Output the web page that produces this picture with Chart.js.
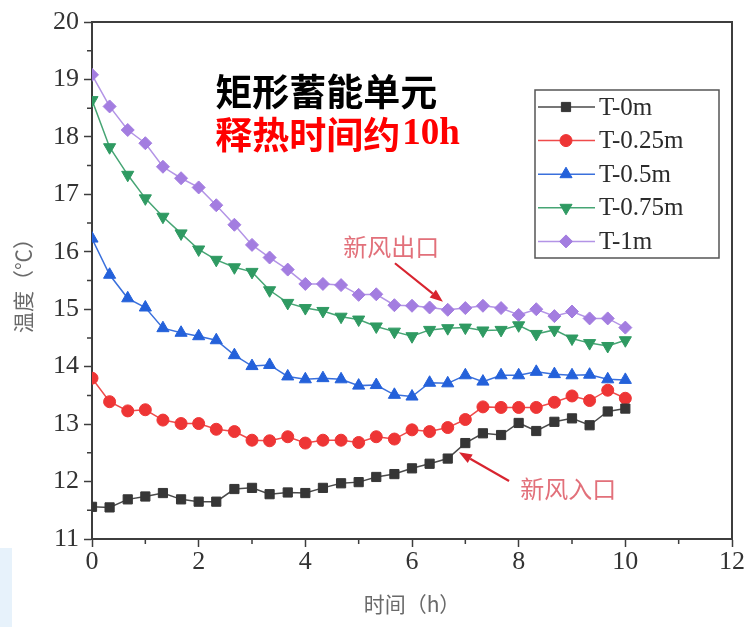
<!DOCTYPE html>
<html>
<head>
<meta charset="utf-8">
<script src="https://cdn.jsdelivr.net/npm/chart.js@4.4.1/dist/chart.umd.min.js"></script>
<style>
  html, body { margin: 0; padding: 0; background: #fff; }
  #wrap { position: relative; width: 746px; height: 627px; }
  canvas { display: block; }
  .edge { position: absolute; left: 0; top: 548px; width: 12px; height: 79px; background: #e7f2fb; }
</style>
</head>
<body>
<div id="wrap">
  <canvas id="c" width="746" height="627"></canvas>
  <div class="edge"></div>
</div>
<script>
// Sampling times (h), one reading every 20 minutes
const hours = [0, 0.33, 0.67, 1, 1.33, 1.67, 2, 2.33, 2.67, 3, 3.33, 3.67, 4, 4.33, 4.67,
               5, 5.33, 5.67, 6, 6.33, 6.67, 7, 7.33, 7.67, 8, 8.33, 8.67, 9, 9.33, 9.67, 10];

// Temperatures (°C) at each depth
const t0m   = [11.56, 11.55, 11.69, 11.74, 11.80, 11.69, 11.65, 11.65, 11.87, 11.89, 11.78, 11.81, 11.80, 11.89, 11.97,
               11.99, 12.08, 12.13, 12.23, 12.31, 12.40, 12.67, 12.84, 12.81, 13.02, 12.88, 13.04, 13.10, 12.98, 13.22, 13.27];
const t025m = [13.80, 13.39, 13.23, 13.25, 13.07, 13.01, 13.01, 12.91, 12.87, 12.72, 12.71, 12.78, 12.67, 12.72, 12.72,
               12.68, 12.78, 12.74, 12.90, 12.87, 12.94, 13.08, 13.30, 13.29, 13.29, 13.29, 13.38, 13.49, 13.41, 13.59, 13.45];
const t05m  = [16.23, 15.60, 15.19, 15.03, 14.67, 14.59, 14.53, 14.46, 14.20, 14.01, 14.03, 13.83, 13.78, 13.80, 13.78,
               13.67, 13.68, 13.51, 13.48, 13.72, 13.71, 13.85, 13.74, 13.85, 13.85, 13.91, 13.87, 13.85, 13.86, 13.78, 13.77];
const t075m = [18.64, 17.82, 17.34, 16.93, 16.61, 16.32, 16.04, 15.86, 15.73, 15.65, 15.33, 15.11, 15.02, 14.97, 14.87,
               14.82, 14.70, 14.61, 14.53, 14.64, 14.67, 14.68, 14.63, 14.64, 14.72, 14.57, 14.64, 14.49, 14.41, 14.36, 14.46];
const t1m   = [19.08, 18.53, 18.12, 17.89, 17.48, 17.28, 17.12, 16.81, 16.47, 16.12, 15.90, 15.69, 15.44, 15.44, 15.42,
               15.25, 15.26, 15.07, 15.06, 15.03, 14.99, 15.02, 15.06, 15.02, 14.90, 15.00, 14.88, 14.96, 14.84, 14.84, 14.68];

const seriesNames = ['T-0m', 'T-0.25m', 'T-0.5m', 'T-0.75m', 'T-1m'];

// Axis ticks
const xTicks = [0, 2, 4, 6, 8, 10, 12];
const xMinorTicks = [1, 3, 5, 7, 9, 11];
const yTicks = [11, 12, 13, 14, 15, 16, 17, 18, 19, 20];
const yMinorTicks = [11.5, 12.5, 13.5, 14.5, 15.5, 16.5, 17.5, 18.5, 19.5];

// Text labels
const titleLine1 = '矩形蓄能单元';
const titleLine2Cjk = '释热时间约';
const titleLine2Latin = '10h';
const xTitle = '时间（h）';
const yTitle = '温度（℃）';
const noteOutlet = '新风出口';
const noteInlet = '新风入口';

// Marker / line styles per series
const styles = [
  { point: '#363636', line: '#4a4a4a', shape: 'rect',     radius: 6.5, rotation: 0 },
  { point: '#ee3535', line: '#ef4a4a', shape: 'circle',   radius: 6,   rotation: 0 },
  { point: '#2461da', line: '#3a70dc', shape: 'triangle', radius: 7,   rotation: 0 },
  { point: '#2f9a62', line: '#46a574', shape: 'triangle', radius: 7,   rotation: 180 },
  { point: '#a37de0', line: '#b394e6', shape: 'rectRot',  radius: 6.5, rotation: 0 }
];
const values = [t0m, t025m, t05m, t075m, t1m];

const AXIS_COLOR = '#3d3d3d';
const TICK_COLOR = '#333333';
const TITLE_COLOR = '#6a6a6a';
const NOTE_COLOR = '#e2707a';
const ARROW_COLOR = '#d8242f';

const datasets = values.map((vals, k) => ({
  label: seriesNames[k],
  data: hours.map((h, i) => ({ x: h, y: vals[i] })),
  borderColor: styles[k].line,
  backgroundColor: styles[k].point,
  pointBackgroundColor: styles[k].point,
  pointBorderColor: styles[k].point,
  pointBorderWidth: 1,
  pointStyle: styles[k].shape,
  pointRadius: styles[k].radius,
  pointRotation: styles[k].rotation,
  borderWidth: 1.5,
  tension: 0,
  fill: false
}));

// Frame on the top/right sides plus short minor ticks on both axes
const frameAndMinorTicks = {
  id: 'frameAndMinorTicks',
  afterDraw(chart) {
    const { ctx, chartArea: a, scales: { x, y } } = chart;
    ctx.save();
    ctx.strokeStyle = AXIS_COLOR;
    ctx.lineWidth = 2;
    ctx.beginPath();
    ctx.moveTo(a.left, a.top);
    ctx.lineTo(a.right, a.top);
    ctx.lineTo(a.right, a.bottom);
    ctx.stroke();
    ctx.lineWidth = 1.5;
    ctx.beginPath();
    xMinorTicks.forEach(v => {
      const px = x.getPixelForValue(v);
      ctx.moveTo(px, a.bottom);
      ctx.lineTo(px, a.bottom + 5);
    });
    yMinorTicks.forEach(v => {
      const py = y.getPixelForValue(v);
      ctx.moveTo(a.left, py);
      ctx.lineTo(a.left - 5, py);
    });
    ctx.stroke();
    ctx.restore();
  }
};

// Boxed legend with a line-through-marker sample for every series
const boxedLegend = {
  id: 'boxedLegend',
  afterDatasetsDraw(chart) {
    const ctx = chart.ctx;
    const bx = 535, by = 90, bw = 184, bh = 168;
    const rowGap = 33.6;
    ctx.save();
    ctx.fillStyle = '#fff';
    ctx.fillRect(bx, by, bw, bh);
    ctx.strokeStyle = '#555';
    ctx.lineWidth = 1.5;
    ctx.strokeRect(bx, by, bw, bh);
    chart.data.datasets.forEach((ds, i) => {
      const cy = by + 17 + i * rowGap;
      ctx.strokeStyle = ds.borderColor;
      ctx.lineWidth = 1.5;
      ctx.beginPath();
      ctx.moveTo(bx + 3, cy);
      ctx.lineTo(bx + 60, cy);
      ctx.stroke();
      ctx.fillStyle = ds.pointBackgroundColor;
      ctx.strokeStyle = ds.pointBorderColor;
      ctx.lineWidth = 1;
      Chart.helpers.drawPoint(ctx, {
        pointStyle: ds.pointStyle, radius: ds.pointRadius,
        rotation: ds.pointRotation, borderWidth: 1
      }, bx + 31, cy);
      ctx.fillStyle = '#2b2b2b';
      ctx.font = '25px "Liberation Serif"';
      ctx.textBaseline = 'middle';
      ctx.textAlign = 'left';
      ctx.fillText(ds.label, bx + 64, cy + 1);
    });
    ctx.restore();
  }
};

// Headline, callouts and arrows, anchored in data units
const notes = {
  id: 'notes',
  afterDatasetsDraw(chart) {
    const { ctx, scales: { x, y } } = chart;
    const X = v => x.getPixelForValue(v);
    const Y = v => y.getPixelForValue(v);
    ctx.save();

    // headline
    ctx.textBaseline = 'middle';
    ctx.textAlign = 'left';
    ctx.fillStyle = '#000';
    ctx.font = '700 37px "Noto Sans CJK SC"';
    const hx = X(2.31);
    ctx.fillText(titleLine1, hx, Y(18.78));
    ctx.fillStyle = '#ff0000';
    ctx.fillText(titleLine2Cjk, hx, Y(18.04));
    const w = ctx.measureText(titleLine2Cjk).width;
    ctx.font = '700 37px "Liberation Serif"';
    ctx.fillText(titleLine2Latin, hx + w + 2, Y(18.04));

    // callout texts
    ctx.fillStyle = NOTE_COLOR;
    ctx.font = '24px "Noto Sans CJK SC"';
    ctx.fillText(noteOutlet, X(4.71), Y(16.08));
    ctx.fillText(noteInlet, X(8.03), Y(11.87));

    // arrows
    const arrow = (x1, y1, x2, y2) => {
      const ax = X(x1), ay = Y(y1), tx = X(x2), ty = Y(y2);
      const ang = Math.atan2(ty - ay, tx - ax);
      const head = 13, half = 5;
      const bxp = tx - head * Math.cos(ang), byp = ty - head * Math.sin(ang);
      ctx.strokeStyle = ARROW_COLOR;
      ctx.fillStyle = ARROW_COLOR;
      ctx.lineWidth = 2.2;
      ctx.beginPath();
      ctx.moveTo(ax, ay);
      ctx.lineTo(bxp, byp);
      ctx.stroke();
      ctx.beginPath();
      ctx.moveTo(tx, ty);
      ctx.lineTo(bxp + half * Math.sin(ang), byp - half * Math.cos(ang));
      ctx.lineTo(bxp - half * Math.sin(ang), byp + half * Math.cos(ang));
      ctx.closePath();
      ctx.fill();
    };
    arrow(5.68, 15.80, 6.58, 15.13);
    arrow(7.82, 12.01, 6.88, 12.51);
    ctx.restore();
  }
};

const tickFont = { family: 'Liberation Serif', size: 26 };
const axisTitleFont = { family: 'Noto Sans CJK SC', size: 21 };

new Chart(document.getElementById('c'), {
  type: 'line',
  data: { datasets },
  options: {
    responsive: false,
    animation: false,
    devicePixelRatio: 1,
    layout: { padding: { left: 0, right: 14, top: 22, bottom: 0 } },
    plugins: { legend: { display: false }, tooltip: { enabled: false } },
    scales: {
      x: {
        type: 'linear', min: 0, max: 12,
        afterFit(s) { s.height = 88; },
        afterBuildTicks(s) { s.ticks = xTicks.map(v => ({ value: v })); },
        ticks: { font: tickFont, color: TICK_COLOR, padding: 0, maxRotation: 0, autoSkip: false },
        grid: { display: true, drawOnChartArea: false, drawTicks: true, tickLength: 8, tickWidth: 1.5, tickColor: AXIS_COLOR },
        border: { display: true, color: AXIS_COLOR, width: 2 },
        title: { display: true, text: xTitle, font: axisTitleFont, color: TITLE_COLOR, padding: { top: 0, bottom: 10 } }
      },
      y: {
        type: 'linear', min: 11, max: 20,
        afterFit(s) { s.width = 92; },
        afterBuildTicks(s) { s.ticks = yTicks.map(v => ({ value: v })); },
        ticks: { font: tickFont, color: TICK_COLOR, padding: 5, autoSkip: false },
        grid: { display: true, drawOnChartArea: false, drawTicks: true, tickLength: 8, tickWidth: 1.5, tickColor: AXIS_COLOR },
        border: { display: true, color: AXIS_COLOR, width: 2 },
        title: { display: true, text: yTitle, font: axisTitleFont, color: TITLE_COLOR, padding: { top: 10, bottom: 0 } }
      }
    }
  },
  plugins: [frameAndMinorTicks, notes, boxedLegend]
});
</script>
</body>
</html>
